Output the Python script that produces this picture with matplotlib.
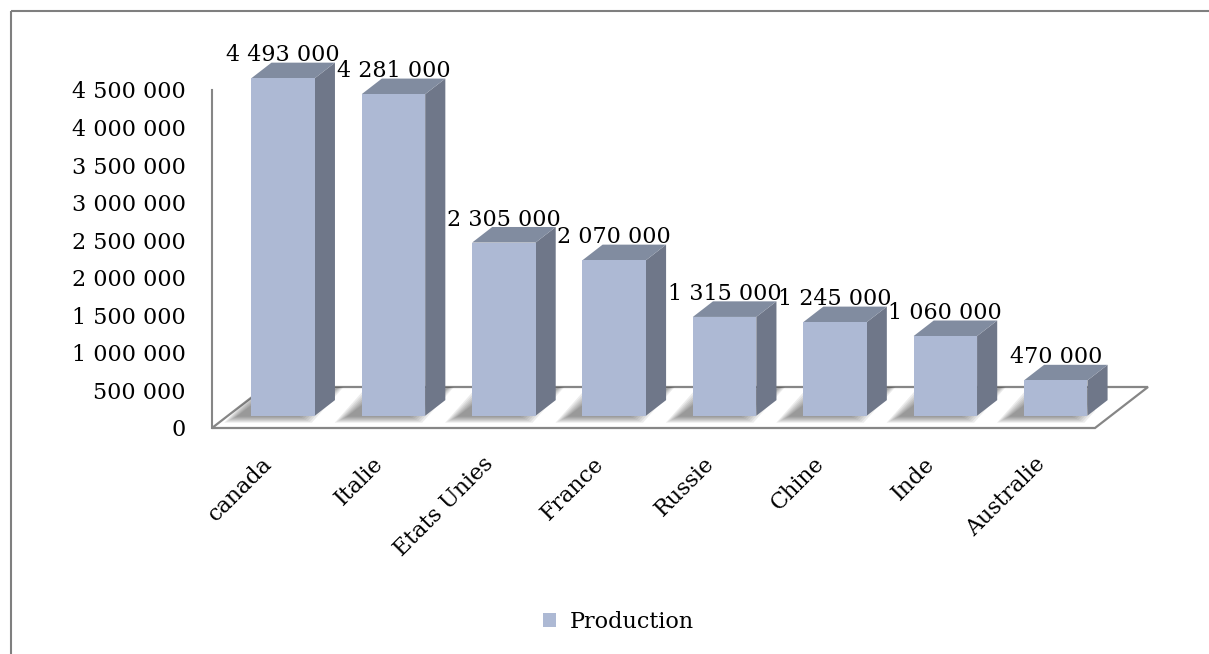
import numpy as np
import matplotlib
matplotlib.use("Agg")
import matplotlib.pyplot as plt
import matplotlib.transforms as mtransforms
from matplotlib.patches import Polygon, Patch
from matplotlib.lines import Line2D

##### Data #####
categories = ["canada", "Italie", "Etats Unies", "France", "Russie", "Chine", "Inde", "Australie"]
production = [4493000, 4281000, 2305000, 2070000, 1315000, 1245000, 1060000, 470000]
y_ticks = [0, 500000, 1000000, 1500000, 2000000, 2500000, 3000000, 3500000, 4000000, 4500000]
series_name = "Production"

##### Style #####
plt.rcParams['font.family'] = ['DejaVu Serif']
FS = 16
front_color = '#adb9d4'
side_color = '#6f7789'
top_color = '#818ca0'
line_gray = '#868686'

W, H = 1209, 654
fig = plt.figure(figsize=(W / 100, H / 100), dpi=100)

# front plane of the 3d box, in pixels from the top-left corner
left, right, bottom, top = 212, 1095, 428, 90
ax = fig.add_axes([left / W, 1 - bottom / H, (right - left) / W, (bottom - top) / H])
ax.set_xlim(-0.5, len(categories) - 0.5)
ax.set_ylim(0, y_ticks[-1])
ax.patch.set_visible(False)

# depth direction of the floor in display pixels (right, up)
depth_px = np.array([53.0, 41.0])


def proj(x, y, d):
    # data point (x, y) pushed back by a fraction d of the floor depth
    p = ax.transData.transform((x, y)) + depth_px * d
    return ax.transData.inverted().transform(p)


def shadow_quad(pts, k, shift=(-15, -1)):
    # floor quad (FL, FR, BR, BL) moved sideways and enlarged by k pixels
    disp = ax.transData.transform(pts)
    offs = np.array([[-k, -0.5 * k], [k, -0.5 * k], [k, 0.5 * k], [-k, 0.5 * k]])
    disp = disp + offs + np.array(shift)
    return ax.transData.inverted().transform(disp)


n = len(categories)
# floor
floor_pts = [proj(-0.5, 0, 0), proj(n - 0.5, 0, 0), proj(n - 0.5, 0, 1), proj(-0.5, 0, 1)]
floor = Polygon(floor_pts, closed=True, facecolor='white', edgecolor=line_gray,
                linewidth=1.6, zorder=1, clip_on=False)
ax.add_patch(floor)

bw = 0.575
d0, d1 = 0.3, 0.68

# soft shadows cast on the floor, to the left of each bar, running to the back edge
for i, v in enumerate(production):
    x0, x1 = i - bw / 2, i + bw / 2
    foot = np.array([proj(x0, 0, d0), proj(x1, 0, d0), proj(x1, 0, 0.95), proj(x0, 0, 0.95)])
    for k in range(12, -1, -2):
        sh = Polygon(shadow_quad(foot, k), closed=True, facecolor='#303030', edgecolor='none',
                     alpha=0.09, zorder=2)
        ax.add_patch(sh)
        sh.set_clip_path(floor)

# bars
for i, v in enumerate(production):
    x0, x1 = i - bw / 2, i + bw / 2
    front = [proj(x0, 0, d0), proj(x1, 0, d0), proj(x1, v, d0), proj(x0, v, d0)]
    side = [proj(x1, 0, d0), proj(x1, 0, d1), proj(x1, v, d1), proj(x1, v, d0)]
    cap = [proj(x0, v, d0), proj(x1, v, d0), proj(x1, v, d1), proj(x0, v, d1)]
    for pts, c in ((side, side_color), (cap, top_color), (front, front_color)):
        ax.add_patch(Polygon(pts, closed=True, facecolor=c, edgecolor='none',
                             zorder=3, clip_on=False))
    lx = proj(i, v, d0)[0]
    ly = proj(i, v, d1)[1]
    label = f"{v:,}".replace(",", " ")
    ax.annotate(label, (lx, ly), xytext=(0, 1), textcoords='offset points',
                ha='center', va='baseline', fontsize=FS, zorder=5, annotation_clip=False)

# axes
for s in ('top', 'right', 'bottom'):
    ax.spines[s].set_visible(False)
ax.spines['left'].set_color(line_gray)
ax.spines['left'].set_linewidth(1.5)
ax.set_yticks(y_ticks)
ax.set_yticklabels([f"{t:,}".replace(",", " ") for t in y_ticks])
ax.tick_params(axis='y', length=0, pad=19, labelsize=FS)
ax.set_xticks(range(n))
ax.set_xticklabels(categories, rotation=45, ha='right', rotation_mode='anchor')
ax.tick_params(axis='x', length=0, pad=18, labelsize=FS)
shift = mtransforms.ScaledTranslation(-0.06, 0, fig.dpi_scale_trans)
for lab in ax.get_xticklabels():
    lab.set_transform(lab.get_transform() + shift)

# legend
fig.legend(handles=[Patch(facecolor=front_color, edgecolor='none')], labels=[series_name],
           loc='center', bbox_to_anchor=(618 / W, 1 - 622 / H), frameon=False,
           fontsize=FS, handlelength=0.6, handleheight=0.6, handletextpad=0.6)

# outer frame (left and top edges)
fig.add_artist(Line2D([11 / W, 11 / W], [0, 1 - 11 / H], color='#7f7f7f', linewidth=1.5,
                      solid_capstyle='butt'))
fig.add_artist(Line2D([11 / W, 1], [1 - 11 / H, 1 - 11 / H], color='#7f7f7f', linewidth=1.5,
                      solid_capstyle='butt'))

fig.savefig("out.png", dpi=100)
